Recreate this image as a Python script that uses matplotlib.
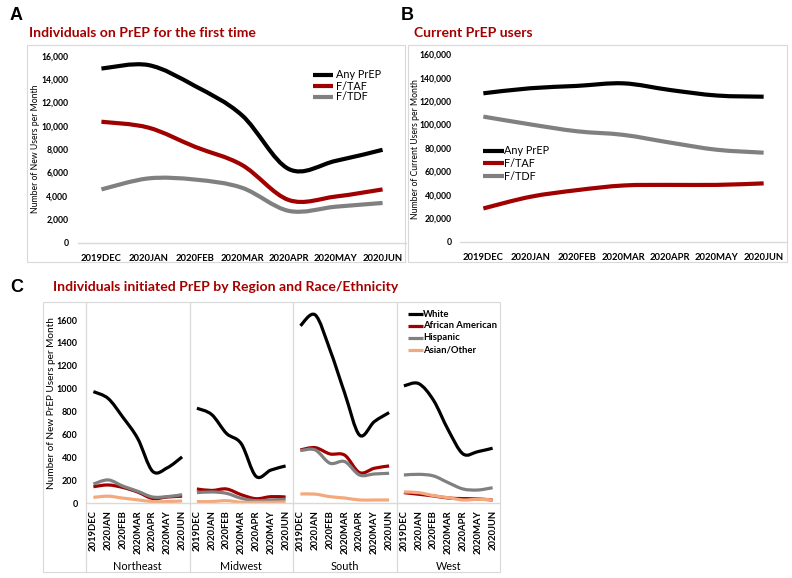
import matplotlib
matplotlib.use("Agg")
import matplotlib.pyplot as plt
from matplotlib.path import Path
from matplotlib.patches import PathPatch, Rectangle
from matplotlib.lines import Line2D

W, H = 792, 578

months = ["2019DEC", "2020JAN", "2020FEB", "2020MAR", "2020APR", "2020MAY", "2020JUN"]

# Panel A: new users per month
a_series = ["Any PrEP", "F/TAF", "F/TDF"]
a_any = [14900, 15200, 13400, 10900, 6300, 7000, 7950]
a_taf = [10350, 9850, 8200, 6650, 3650, 3950, 4560]
a_tdf = [4560, 5500, 5400, 4700, 2720, 3080, 3400]

# Panel B: current users per month
b_series = ["Any PrEP", "F/TAF", "F/TDF"]
b_any = [126700, 131000, 133000, 135200, 129500, 124800, 123800]
b_taf = [28400, 38300, 44000, 48000, 48500, 48500, 49800]
b_tdf = [106800, 100200, 94300, 91200, 84600, 78500, 76000]

# Panel C: new users by region and race/ethnicity
regions = ["Northeast", "Midwest", "South", "West"]
races = ["White", "African American", "Hispanic", "Asian/Other"]
c_white = {
    "Northeast": [975, 915, 750, 565, 280, 310, 405],
    "Midwest": [830, 775, 610, 520, 235, 290, 326],
    "South": [1550, 1645, 1340, 960, 595, 713, 792],
    "West": [1025, 1045, 900, 640, 431, 451, 481],
}
c_afam = {
    "Northeast": [145, 160, 138, 98, 42, 55, 62],
    "Midwest": [125, 112, 125, 75, 40, 58, 55],
    "South": [466, 486, 431, 420, 268, 306, 326],
    "West": [93, 79, 64, 46, 41, 38, 29],
}
c_hisp = {
    "Northeast": [168, 204, 150, 105, 55, 58, 75],
    "Midwest": [93, 99, 87, 44, 23, 29, 35],
    "South": [460, 466, 350, 364, 247, 256, 262],
    "West": [247, 253, 239, 180, 125, 116, 136],
}
c_asian = {
    "Northeast": [52, 62, 45, 30, 15, 15, 20],
    "Midwest": [15, 15, 23, 9, 9, 9, 12],
    "South": [81, 80, 58, 46, 29, 29, 29],
    "West": [99, 93, 67, 49, 29, 35, 29],
}

BLACK = "#000000"
RED = "#A00000"
GRAY = "#808080"
PEACH = "#F4A97C"
TITLE = "#A50000"
BORDER = "#D9D9D9"
FONT = "Lato"

fig = plt.figure(figsize=(W / 100, H / 100), dpi=100)


def fx(x):
    return x / W


def fy(y):
    return 1 - y / H


def px_axes(l, t, r, b):
    return fig.add_axes([fx(l), fy(b), (r - l) / W, (b - t) / H])


def smooth_path(xs, ys, t=1 / 6):
    n = len(xs)
    verts = [(xs[0], ys[0])]
    codes = [Path.MOVETO]
    for i in range(n - 1):
        p0 = i - 1 if i > 0 else i
        p3 = i + 2 if i + 2 < n else i + 1
        c1 = (xs[i] + (xs[i + 1] - xs[p0]) * t, ys[i] + (ys[i + 1] - ys[p0]) * t)
        c2 = (xs[i + 1] - (xs[p3] - xs[i]) * t, ys[i + 1] - (ys[p3] - ys[i]) * t)
        verts += [c1, c2, (xs[i + 1], ys[i + 1])]
        codes += [Path.CURVE4] * 3
    return Path(verts, codes)


def draw_smooth(ax, ys, color, lw):
    xs = list(range(len(ys)))
    patch = PathPatch(smooth_path(xs, ys), fill=False, edgecolor=color, lw=lw,
                      capstyle="butt", joinstyle="round")
    ax.add_patch(patch)


def fig_line(x0, y0, x1, y1, color, lw):
    fig.add_artist(Line2D([fx(x0), fx(x1)], [fy(y0), fy(y1)], color=color, lw=lw,
                          transform=fig.transFigure, solid_capstyle="butt"))


def style_axes(ax):
    for s in ["top", "right", "left"]:
        ax.spines[s].set_visible(False)
    ax.spines["bottom"].set_color(BORDER)
    ax.spines["bottom"].set_linewidth(1.0)
    ax.tick_params(axis="both", length=0)
    ax.set_facecolor("none")


# outer boxes
fig.add_artist(Rectangle((fx(27), fy(262)), (405 - 27) / W, (262 - 45) / H, fill=False,
                         edgecolor=BORDER, lw=0.8, transform=fig.transFigure))
fig.add_artist(Rectangle((fx(408), fy(262)), (787 - 408) / W, (262 - 45) / H, fill=False,
                         edgecolor=BORDER, lw=0.8, transform=fig.transFigure))
fig.add_artist(Rectangle((fx(43), fy(572)), (500 - 43) / W, (572 - 302) / H, fill=False,
                         edgecolor=BORDER, lw=0.8, transform=fig.transFigure))

TITLE_SIZE = 10.1

# ---------------- Panel A ----------------
axA = px_axes(78, 55.7, 406, 242.7)
style_axes(axA)
axA.set_xlim(-0.5, 6.5)
axA.set_ylim(0, 16000)
for ys, c in [(a_any, BLACK), (a_taf, RED), (a_tdf, GRAY)]:
    draw_smooth(axA, ys, c, 3.0)
axA.set_yticks(range(0, 16001, 2000))
axA.set_yticklabels([f"{v:,}" for v in range(0, 16001, 2000)], fontsize=6.2,
                    fontweight="bold", family=FONT)
axA.set_xticks(range(7))
axA.set_xticklabels(months, fontsize=6.8, fontweight="bold", family=FONT)
axA.tick_params(axis="y", pad=7)
axA.tick_params(axis="x", pad=8)
fig.text(fx(36), fy(149), "Number of New Users per Month", rotation=90, ha="center",
         va="center", fontsize=6.2, family=FONT)

fig.text(fx(10), fy(15), "A", fontsize=13, fontweight="bold", family="Liberation Sans",
         va="center", ha="left")
fig.text(fx(29), fy(33), "Individuals on PrEP for the first time", fontsize=TITLE_SIZE,
         fontweight="bold", family=FONT, color=TITLE, va="center", ha="left")

for i, (name, c) in enumerate(zip(a_series, [BLACK, RED, GRAY])):
    yy = [75, 86, 97][i]
    fig_line(313, yy, 333, yy, c, 3.0)
    fig.text(fx(336), fy(yy), name, fontsize=7.8, family=FONT, va="center", ha="left")

# ---------------- Panel B ----------------
axB = px_axes(460, 54.3, 787, 241.7)
style_axes(axB)
axB.set_xlim(-0.5, 6.5)
axB.set_ylim(0, 160000)
for ys, c in [(b_any, BLACK), (b_taf, RED), (b_tdf, GRAY)]:
    draw_smooth(axB, ys, c, 3.0)
axB.set_yticks(range(0, 160001, 20000))
axB.set_yticklabels([f"{v:,}" for v in range(0, 160001, 20000)], fontsize=6.2,
                    fontweight="bold", family=FONT)
axB.set_xticks(range(7))
axB.set_xticklabels(months, fontsize=6.8, fontweight="bold", family=FONT)
axB.tick_params(axis="y", pad=6)
axB.tick_params(axis="x", pad=8)
fig.text(fx(415), fy(149), "Number of Current Users per Month", rotation=90,
         ha="center", va="center", fontsize=6.2, family=FONT)

fig.text(fx(401), fy(15), "B", fontsize=13, fontweight="bold", family="Liberation Sans",
         va="center", ha="left")
fig.text(fx(414), fy(33), "Current PrEP users", fontsize=TITLE_SIZE,
         fontweight="bold", family=FONT, color=TITLE, va="center", ha="left")

for i, (name, c) in enumerate(zip(b_series, [BLACK, RED, GRAY])):
    yy = [151, 163.5, 176][i]
    fig_line(483, yy, 504, yy, c, 3.0)
    fig.text(fx(504), fy(yy), name, fontsize=7.8, family=FONT, va="center", ha="left")

# ---------------- Panel C ----------------
fig.text(fx(10), fy(288), "C", fontsize=13, fontweight="bold", family="Liberation Sans",
         va="center", ha="left")
fig.text(fx(53), fy(287), "Individuals initiated PrEP by Region and Race/Ethnicity",
         fontsize=TITLE_SIZE, fontweight="bold", family=FONT, color=TITLE, va="center",
         ha="left")

bounds = [86, 189.5, 293, 396.5, 500]
c_top, c_bot = 301.7, 503.3
for k, reg in enumerate(regions):
    ax = px_axes(bounds[k], c_top, bounds[k + 1], c_bot)
    style_axes(ax)
    ax.set_xlim(-0.5, 6.5)
    ax.set_ylim(0, 1760)
    for data, c in [(c_white, BLACK), (c_afam, RED), (c_hisp, GRAY), (c_asian, PEACH)]:
        draw_smooth(ax, data[reg], c, 2.3)
    ax.set_xticks(range(7))
    ax.set_xticklabels(months, rotation=90, fontsize=6.8, fontweight="bold", family=FONT)
    ax.tick_params(axis="x", pad=5)
    if k == 0:
        ax.set_yticks(range(0, 1601, 200))
        ax.set_yticklabels([str(v) for v in range(0, 1601, 200)], fontsize=6.5,
                           fontweight="bold", family=FONT)
        ax.tick_params(axis="y", pad=6)
    else:
        ax.set_yticks([])
    fig.text(fx((bounds[k] + bounds[k + 1]) / 2), fy(566), reg, fontsize=7.8,
             family=FONT, ha="center", va="center")

for b in bounds[:-1]:
    fig_line(b, 302, b, 572, BORDER, 0.9)

fig.text(fx(52), fy(403), "Number of New PrEP Users per Month", rotation=90,
         ha="center", va="center", fontsize=7.2, family=FONT)

for i, (name, c) in enumerate(zip(races, [BLACK, RED, GRAY, PEACH])):
    yy = [314.3, 326, 337.7, 349.7][i]
    fig_line(408, yy, 423, yy, c, 2.3)
    fig.text(fx(423), fy(yy), name, fontsize=6.8, fontweight="bold", family=FONT,
             va="center", ha="left")

fig.savefig("out.png", dpi=100)
